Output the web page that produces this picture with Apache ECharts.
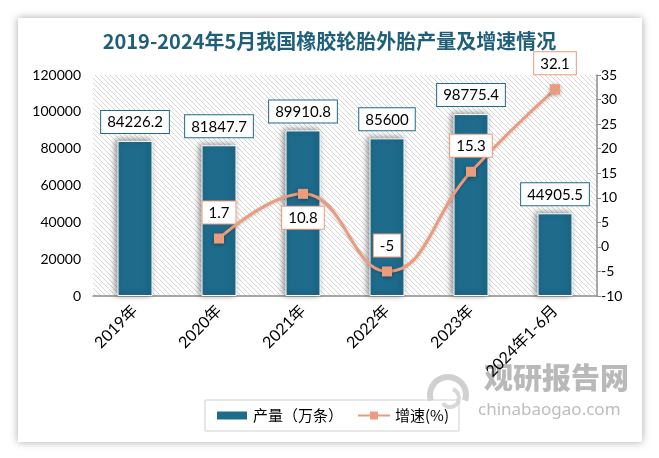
<!DOCTYPE html>
<html><head><meta charset="utf-8">
<script src="https://cdn.jsdelivr.net/npm/echarts@6/dist/echarts.min.js"></script>
<style>html,body{margin:0;padding:0;background:#fff}#c{width:659px;height:458px}</style>
</head><body><div id="c"></div>
<script>
const categories = ['2019年','2020年','2021年','2022年','2023年','2024年1-6月'];
const output = [84226.2, 81847.7, 89910.8, 85600, 98775.4, 44905.5];
const growthCats = ['2020年','2021年','2022年','2023年','2024年1-6月'];
const growth = [1.7, 10.8, -5, 15.3, 32.1];
const leftTicks = [0, 20000, 40000, 60000, 80000, 100000, 120000];
const rightTicks = [-10, -5, 0, 5, 10, 15, 20, 25, 30, 35];

const hatch = document.createElement('canvas');
hatch.width = 5; hatch.height = 5;
(function(){const g = hatch.getContext('2d');g.fillStyle='#fff';g.fillRect(0,0,5,5);g.strokeStyle='#d6d6d6';g.lineWidth=1;
g.beginPath();g.moveTo(-1,-1);g.lineTo(6,6);g.stroke();g.beginPath();g.moveTo(4,-1);g.lineTo(6,1);g.stroke();g.beginPath();g.moveTo(-1,4);g.lineTo(1,6);g.stroke();})();

const barColor = '#1e6b8c';
const lineColor = '#ec9b7c';
const font = 'Lato, "Noto Sans CJK SC", sans-serif';

const lineData = categories.map(c => {
  const i = growthCats.indexOf(c);
  if (i < 0) return null;
  const v = growth[i];
  if (v === 10.8) return {value: v, label: {position: 'bottom', distance: 8}};
  return v;
});

const chart = echarts.init(document.getElementById('c'), null, {renderer: 'canvas'});
chart.setOption({
  animation: false,
  backgroundColor: '#fff',
  title: {
    text: '2019-2024年5月我国橡胶轮胎外胎产量及增速情况',
    left: 'center', top: 26,
    textStyle: {color: '#1f5f7a', fontSize: 20, fontWeight: 'bold', fontFamily: '"Noto Sans CJK SC", sans-serif'}
  },
  graphic: [
    {type: 'rect', z: -10, shape: {x: 18, y: 18, width: 624, height: 424}, style: {fill: '#fff', shadowBlur: 8, shadowColor: 'rgba(0,0,0,0.35)'}},
    {type: 'text', z: 0, left: 484, top: 363, style: {text: '观研报告网', fill: '#b9b9b9', font: '900 29px "Noto Sans CJK SC"'}},
    {type: 'text', z: 0, left: 478, top: 402, style: {text: 'chinabaogao.com', fill: '#bdbdbd', font: '17px "Noto Sans"'}},
    {type: 'arc', z: 0, shape: {cx: 448, cy: 395, r: 18, startAngle: Math.PI * 0.9, endAngle: Math.PI * 2.1}, style: {stroke: '#d0d0d0', lineWidth: 6, fill: 'none'}},
    {type: 'arc', z: 0, shape: {cx: 450, cy: 398, r: 9, startAngle: Math.PI * 1.6, endAngle: Math.PI * 2.8}, style: {stroke: '#d8d8d8', lineWidth: 4, fill: 'none'}}
  ],
  grid: {left: 93, right: 62, top: 75, bottom: 162, show: true, borderWidth: 0, backgroundColor: {image: hatch, repeat: 'repeat'}},
  legend: {
    left: 205, top: 400, itemWidth: 32, itemHeight: 10, itemGap: 14,
    borderColor: '#d0d0d0', borderWidth: 1, padding: [8, 10],
    textStyle: {fontSize: 15, color: '#000', fontFamily: '"Noto Sans CJK SC", sans-serif'},
    data: [{name: '产量（万条）', icon: 'rect'}, {name: '增速(%)'}]
  },
  xAxis: {
    type: 'category', data: categories,
    axisLine: {lineStyle: {color: '#8c8c8c', width: 1.5}},
    axisTick: {show: false},
    axisLabel: {rotate: 45, color: '#000', fontSize: 16, fontFamily: font, margin: 12, interval: 0}
  },
  yAxis: [
    {type: 'value', min: 0, max: 120000, interval: 20000,
     axisLine: {show: false}, axisTick: {show: false}, splitLine: {show: false},
     axisLabel: {color: '#000', fontSize: 14, fontFamily: font, margin: 12,
       formatter: v => leftTicks.includes(v) ? String(v) : ''}},
    {type: 'value', min: -10, max: 35, interval: 5, position: 'right',
     axisLine: {show: true, lineStyle: {color: '#8c8c8c', width: 1.5}},
     axisTick: {show: true, inside: false, length: 4, lineStyle: {color: '#8c8c8c'}},
     splitLine: {show: false},
     axisLabel: {color: '#000', fontSize: 14, fontFamily: font, margin: 4,
       formatter: v => rightTicks.includes(v) ? String(v) : ''}}
  ],
  series: [
    {name: '产量（万条）', type: 'bar', data: output, barWidth: 35, yAxisIndex: 0,
     itemStyle: {color: barColor, borderColor: '#fff', borderWidth: 1,
       shadowColor: 'rgba(0,0,0,0.45)', shadowBlur: 6, shadowOffsetX: -2, shadowOffsetY: -1},
     label: {show: true, position: 'top', distance: 8, color: '#000', fontSize: 15, fontFamily: font,
       backgroundColor: '#fff', borderColor: '#1f6b8a', borderWidth: 1, padding: [4, 6, 3, 6]}},
    {name: '增速(%)', type: 'line', data: lineData, yAxisIndex: 1, smooth: 0.45,
     symbol: 'rect', symbolSize: 10, connectNulls: false,
     lineStyle: {color: lineColor, width: 3, shadowColor: 'rgba(0,0,0,0.2)', shadowBlur: 3, shadowOffsetY: 1},
     itemStyle: {color: lineColor, shadowColor: 'rgba(0,0,0,0.35)', shadowBlur: 4, shadowOffsetY: 1},
     label: {show: true, position: 'top', distance: 10, color: '#000', fontSize: 15, fontFamily: font,
       backgroundColor: '#fff', borderColor: lineColor, borderWidth: 1, padding: [4, 6, 3, 6]}}
  ]
});
</script></body></html>
